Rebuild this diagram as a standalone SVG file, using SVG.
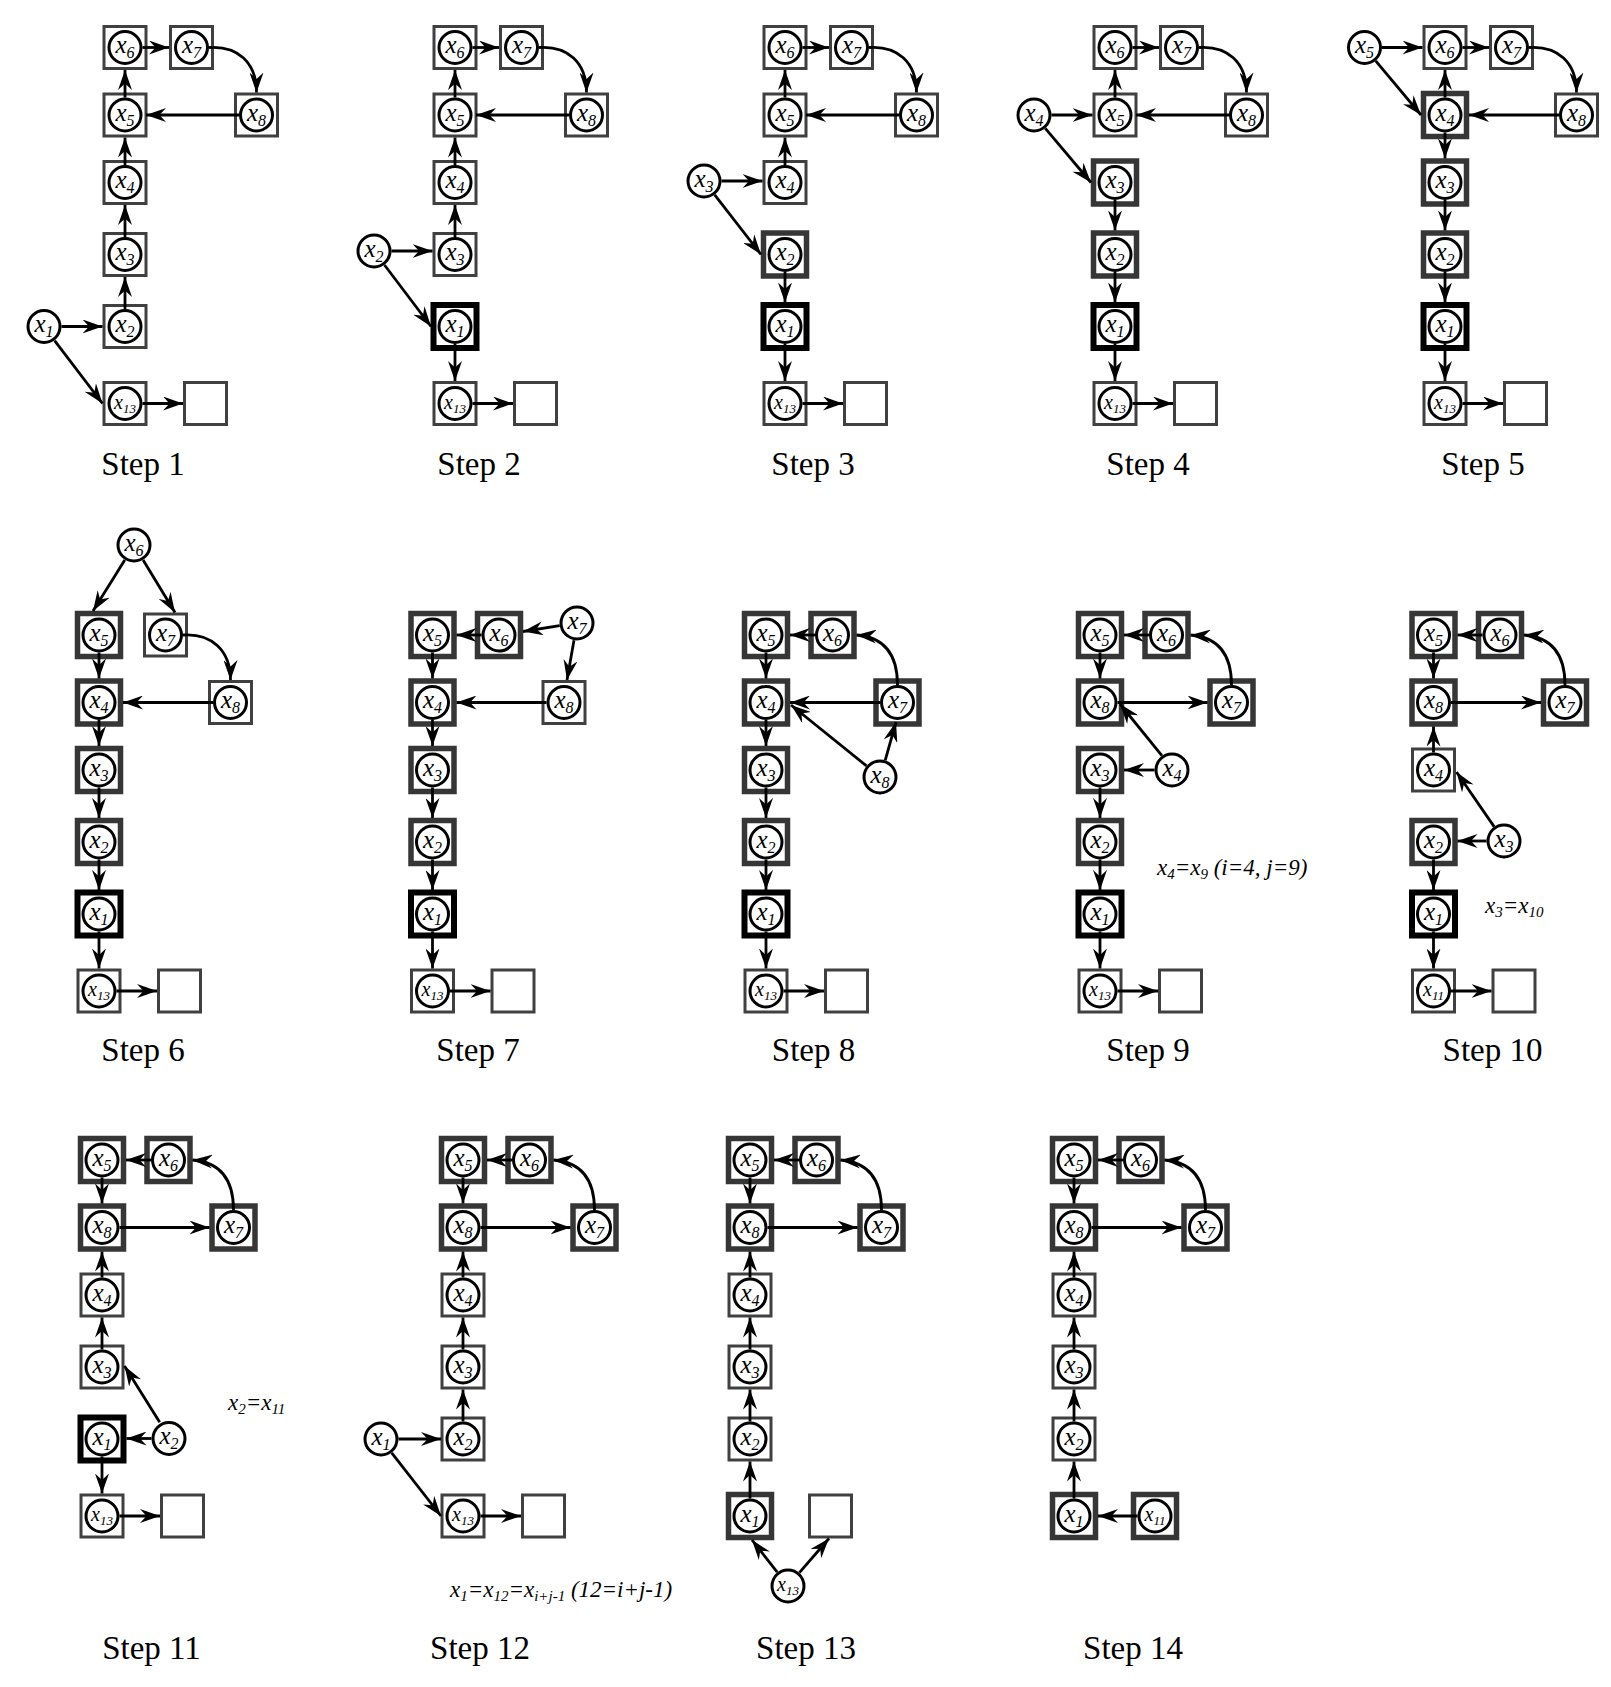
<svg xmlns="http://www.w3.org/2000/svg" width="1611" height="1687" viewBox="0 0 1611 1687">
<style>
.nb{fill:#fff;stroke:#404040;stroke-width:3}
.tb{fill:#fff;stroke:#363636;stroke-width:5.5}
.bb{fill:#fff;stroke:#000;stroke-width:6}
.c{fill:#fff;stroke:#000;stroke-width:3}
.l{font-family:"Liberation Serif",serif;font-style:italic;font-size:25px;text-anchor:middle;fill:#000}
.l .s{font-size:16px}
.l.m{font-size:20px}
.l.m .s{font-size:13px}
.st{font-family:"Liberation Serif",serif;font-size:33px;text-anchor:middle;fill:#000}
.note{font-family:"Liberation Serif",serif;font-style:italic;font-size:23px;fill:#000}
.note .ns{font-size:15px}
.e path{fill:none;stroke:#000;stroke-width:2.8;marker-end:url(#ah)}
</style>
<defs>
<marker id="ah" viewBox="0 0 20 14" refX="20" refY="7" markerWidth="20" markerHeight="14" markerUnits="userSpaceOnUse" orient="auto"><path d="M0,0 L20,7 L0,14 L6.5,7 Z" fill="#000"/></marker>
</defs>
<rect width="1611" height="1687" fill="#fff"/>

<!-- Step 1 -->
<g id="step1">
<g id="s1-x6"><rect class="nb" x="104" y="26.5" width="42" height="42"/><circle class="c" cx="125" cy="47.5" r="16"/><text class="l" x="125" y="53">x<tspan class="s" dy="5">6</tspan></text></g>
<g id="s1-x7"><rect class="nb" x="170.5" y="26.5" width="42" height="42"/><circle class="c" cx="191.5" cy="47.5" r="16"/><text class="l" x="191.5" y="53">x<tspan class="s" dy="5">7</tspan></text></g>
<g id="s1-x5"><rect class="nb" x="104" y="94" width="42" height="42"/><circle class="c" cx="125" cy="115" r="16"/><text class="l" x="125" y="120.5">x<tspan class="s" dy="5">5</tspan></text></g>
<g id="s1-x8"><rect class="nb" x="235.5" y="94" width="42" height="42"/><circle class="c" cx="256.5" cy="115" r="16"/><text class="l" x="256.5" y="120.5">x<tspan class="s" dy="5">8</tspan></text></g>
<g id="s1-x4"><rect class="nb" x="104" y="161.5" width="42" height="42"/><circle class="c" cx="125" cy="182.5" r="16"/><text class="l" x="125" y="188">x<tspan class="s" dy="5">4</tspan></text></g>
<g id="s1-x3"><rect class="nb" x="104" y="233.5" width="42" height="42"/><circle class="c" cx="125" cy="254.5" r="16"/><text class="l" x="125" y="260">x<tspan class="s" dy="5">3</tspan></text></g>
<g id="s1-x2"><rect class="nb" x="104" y="305.5" width="42" height="42"/><circle class="c" cx="125" cy="326.5" r="16"/><text class="l" x="125" y="332">x<tspan class="s" dy="5">2</tspan></text></g>
<g id="s1-x1"><circle class="c" cx="44" cy="326.5" r="16"/><text class="l" x="44" y="332">x<tspan class="s" dy="5">1</tspan></text></g>
<g id="s1-x13"><rect class="nb" x="104" y="382.5" width="42" height="42"/><circle class="c" cx="125" cy="403.5" r="16"/><text class="l m" x="125" y="408.5">x<tspan class="s" dy="4">13</tspan></text></g>
<g id="s1-empty"><rect class="nb" x="184.5" y="382.5" width="42" height="42"/></g>
<text class="st" x="143" y="475">Step 1</text>
</g>

<!-- Step 2 -->
<g id="step2">
<g id="s2-x6"><rect class="nb" x="434" y="26.5" width="42" height="42"/><circle class="c" cx="455" cy="47.5" r="16"/><text class="l" x="455" y="53">x<tspan class="s" dy="5">6</tspan></text></g>
<g id="s2-x7"><rect class="nb" x="500.5" y="26.5" width="42" height="42"/><circle class="c" cx="521.5" cy="47.5" r="16"/><text class="l" x="521.5" y="53">x<tspan class="s" dy="5">7</tspan></text></g>
<g id="s2-x5"><rect class="nb" x="434" y="94" width="42" height="42"/><circle class="c" cx="455" cy="115" r="16"/><text class="l" x="455" y="120.5">x<tspan class="s" dy="5">5</tspan></text></g>
<g id="s2-x8"><rect class="nb" x="565.5" y="94" width="42" height="42"/><circle class="c" cx="586.5" cy="115" r="16"/><text class="l" x="586.5" y="120.5">x<tspan class="s" dy="5">8</tspan></text></g>
<g id="s2-x4"><rect class="nb" x="434" y="161.5" width="42" height="42"/><circle class="c" cx="455" cy="182.5" r="16"/><text class="l" x="455" y="188">x<tspan class="s" dy="5">4</tspan></text></g>
<g id="s2-x3"><rect class="nb" x="434" y="233.5" width="42" height="42"/><circle class="c" cx="455" cy="254.5" r="16"/><text class="l" x="455" y="260">x<tspan class="s" dy="5">3</tspan></text></g>
<g id="s2-x2"><circle class="c" cx="374" cy="251" r="16"/><text class="l" x="374" y="256.5">x<tspan class="s" dy="5">2</tspan></text></g>
<g id="s2-x1"><rect class="bb" x="433.5" y="305" width="43" height="43"/><circle class="c" cx="455" cy="326.5" r="16"/><text class="l" x="455" y="332">x<tspan class="s" dy="5">1</tspan></text></g>
<g id="s2-x13"><rect class="nb" x="434" y="382.5" width="42" height="42"/><circle class="c" cx="455" cy="403.5" r="16"/><text class="l m" x="455" y="408.5">x<tspan class="s" dy="4">13</tspan></text></g>
<g id="s2-empty"><rect class="nb" x="514.5" y="382.5" width="42" height="42"/></g>
<text class="st" x="479" y="475">Step 2</text>
</g>

<!-- Step 3 -->
<g id="step3">
<g id="s3-x6"><rect class="nb" x="764" y="26.5" width="42" height="42"/><circle class="c" cx="785" cy="47.5" r="16"/><text class="l" x="785" y="53">x<tspan class="s" dy="5">6</tspan></text></g>
<g id="s3-x7"><rect class="nb" x="830.5" y="26.5" width="42" height="42"/><circle class="c" cx="851.5" cy="47.5" r="16"/><text class="l" x="851.5" y="53">x<tspan class="s" dy="5">7</tspan></text></g>
<g id="s3-x5"><rect class="nb" x="764" y="94" width="42" height="42"/><circle class="c" cx="785" cy="115" r="16"/><text class="l" x="785" y="120.5">x<tspan class="s" dy="5">5</tspan></text></g>
<g id="s3-x8"><rect class="nb" x="895.5" y="94" width="42" height="42"/><circle class="c" cx="916.5" cy="115" r="16"/><text class="l" x="916.5" y="120.5">x<tspan class="s" dy="5">8</tspan></text></g>
<g id="s3-x4"><rect class="nb" x="764" y="161.5" width="42" height="42"/><circle class="c" cx="785" cy="182.5" r="16"/><text class="l" x="785" y="188">x<tspan class="s" dy="5">4</tspan></text></g>
<g id="s3-x3"><circle class="c" cx="704" cy="181" r="16"/><text class="l" x="704" y="186.5">x<tspan class="s" dy="5">3</tspan></text></g>
<g id="s3-x2"><rect class="tb" x="763.5" y="233" width="43" height="43"/><circle class="c" cx="785" cy="254.5" r="16"/><text class="l" x="785" y="260">x<tspan class="s" dy="5">2</tspan></text></g>
<g id="s3-x1"><rect class="bb" x="763.5" y="305" width="43" height="43"/><circle class="c" cx="785" cy="326.5" r="16"/><text class="l" x="785" y="332">x<tspan class="s" dy="5">1</tspan></text></g>
<g id="s3-x13"><rect class="nb" x="764" y="382.5" width="42" height="42"/><circle class="c" cx="785" cy="403.5" r="16"/><text class="l m" x="785" y="408.5">x<tspan class="s" dy="4">13</tspan></text></g>
<g id="s3-empty"><rect class="nb" x="844.5" y="382.5" width="42" height="42"/></g>
<text class="st" x="813" y="475">Step 3</text>
</g>

<!-- Step 4 -->
<g id="step4">
<g id="s4-x6"><rect class="nb" x="1094" y="26.5" width="42" height="42"/><circle class="c" cx="1115" cy="47.5" r="16"/><text class="l" x="1115" y="53">x<tspan class="s" dy="5">6</tspan></text></g>
<g id="s4-x7"><rect class="nb" x="1160.5" y="26.5" width="42" height="42"/><circle class="c" cx="1181.5" cy="47.5" r="16"/><text class="l" x="1181.5" y="53">x<tspan class="s" dy="5">7</tspan></text></g>
<g id="s4-x5"><rect class="nb" x="1094" y="94" width="42" height="42"/><circle class="c" cx="1115" cy="115" r="16"/><text class="l" x="1115" y="120.5">x<tspan class="s" dy="5">5</tspan></text></g>
<g id="s4-x8"><rect class="nb" x="1225.5" y="94" width="42" height="42"/><circle class="c" cx="1246.5" cy="115" r="16"/><text class="l" x="1246.5" y="120.5">x<tspan class="s" dy="5">8</tspan></text></g>
<g id="s4-x4"><circle class="c" cx="1034" cy="115" r="16"/><text class="l" x="1034" y="120.5">x<tspan class="s" dy="5">4</tspan></text></g>
<g id="s4-x3"><rect class="tb" x="1093.5" y="161" width="43" height="43"/><circle class="c" cx="1115" cy="182.5" r="16"/><text class="l" x="1115" y="188">x<tspan class="s" dy="5">3</tspan></text></g>
<g id="s4-x2"><rect class="tb" x="1093.5" y="233" width="43" height="43"/><circle class="c" cx="1115" cy="254.5" r="16"/><text class="l" x="1115" y="260">x<tspan class="s" dy="5">2</tspan></text></g>
<g id="s4-x1"><rect class="bb" x="1093.5" y="305" width="43" height="43"/><circle class="c" cx="1115" cy="326.5" r="16"/><text class="l" x="1115" y="332">x<tspan class="s" dy="5">1</tspan></text></g>
<g id="s4-x13"><rect class="nb" x="1094" y="382.5" width="42" height="42"/><circle class="c" cx="1115" cy="403.5" r="16"/><text class="l m" x="1115" y="408.5">x<tspan class="s" dy="4">13</tspan></text></g>
<g id="s4-empty"><rect class="nb" x="1174.5" y="382.5" width="42" height="42"/></g>
<text class="st" x="1148" y="475">Step 4</text>
</g>

<!-- Step 5 -->
<g id="step5">
<g id="s5-x5"><circle class="c" cx="1364.5" cy="47.5" r="16"/><text class="l" x="1364.5" y="53">x<tspan class="s" dy="5">5</tspan></text></g>
<g id="s5-x6"><rect class="nb" x="1424" y="26.5" width="42" height="42"/><circle class="c" cx="1445" cy="47.5" r="16"/><text class="l" x="1445" y="53">x<tspan class="s" dy="5">6</tspan></text></g>
<g id="s5-x7"><rect class="nb" x="1490.5" y="26.5" width="42" height="42"/><circle class="c" cx="1511.5" cy="47.5" r="16"/><text class="l" x="1511.5" y="53">x<tspan class="s" dy="5">7</tspan></text></g>
<g id="s5-x4"><rect class="tb" x="1423.5" y="93.5" width="43" height="43"/><circle class="c" cx="1445" cy="115" r="16"/><text class="l" x="1445" y="120.5">x<tspan class="s" dy="5">4</tspan></text></g>
<g id="s5-x8"><rect class="nb" x="1555.5" y="94" width="42" height="42"/><circle class="c" cx="1576.5" cy="115" r="16"/><text class="l" x="1576.5" y="120.5">x<tspan class="s" dy="5">8</tspan></text></g>
<g id="s5-x3"><rect class="tb" x="1423.5" y="161" width="43" height="43"/><circle class="c" cx="1445" cy="182.5" r="16"/><text class="l" x="1445" y="188">x<tspan class="s" dy="5">3</tspan></text></g>
<g id="s5-x2"><rect class="tb" x="1423.5" y="233" width="43" height="43"/><circle class="c" cx="1445" cy="254.5" r="16"/><text class="l" x="1445" y="260">x<tspan class="s" dy="5">2</tspan></text></g>
<g id="s5-x1"><rect class="bb" x="1423.5" y="305" width="43" height="43"/><circle class="c" cx="1445" cy="326.5" r="16"/><text class="l" x="1445" y="332">x<tspan class="s" dy="5">1</tspan></text></g>
<g id="s5-x13"><rect class="nb" x="1424" y="382.5" width="42" height="42"/><circle class="c" cx="1445" cy="403.5" r="16"/><text class="l m" x="1445" y="408.5">x<tspan class="s" dy="4">13</tspan></text></g>
<g id="s5-empty"><rect class="nb" x="1504.5" y="382.5" width="42" height="42"/></g>
<text class="st" x="1483" y="475">Step 5</text>
</g>

<!-- Step 6 -->
<g id="step6">
<g id="s6-x6"><circle class="c" cx="134" cy="545" r="16"/><text class="l" x="134" y="550.5">x<tspan class="s" dy="5">6</tspan></text></g>
<g id="s6-x5"><rect class="tb" x="77.5" y="613.5" width="43" height="43"/><circle class="c" cx="99" cy="635" r="16"/><text class="l" x="99" y="640.5">x<tspan class="s" dy="5">5</tspan></text></g>
<g id="s6-x7"><rect class="nb" x="144.5" y="614" width="42" height="42"/><circle class="c" cx="165.5" cy="635" r="16"/><text class="l" x="165.5" y="640.5">x<tspan class="s" dy="5">7</tspan></text></g>
<g id="s6-x4"><rect class="tb" x="77.5" y="681" width="43" height="43"/><circle class="c" cx="99" cy="702.5" r="16"/><text class="l" x="99" y="708">x<tspan class="s" dy="5">4</tspan></text></g>
<g id="s6-x8"><rect class="nb" x="209.5" y="681.5" width="42" height="42"/><circle class="c" cx="230.5" cy="702.5" r="16"/><text class="l" x="230.5" y="708">x<tspan class="s" dy="5">8</tspan></text></g>
<g id="s6-x3"><rect class="tb" x="77.5" y="748.5" width="43" height="43"/><circle class="c" cx="99" cy="770" r="16"/><text class="l" x="99" y="775.5">x<tspan class="s" dy="5">3</tspan></text></g>
<g id="s6-x2"><rect class="tb" x="77.5" y="820.5" width="43" height="43"/><circle class="c" cx="99" cy="842" r="16"/><text class="l" x="99" y="847.5">x<tspan class="s" dy="5">2</tspan></text></g>
<g id="s6-x1"><rect class="bb" x="77.5" y="892.5" width="43" height="43"/><circle class="c" cx="99" cy="914" r="16"/><text class="l" x="99" y="919.5">x<tspan class="s" dy="5">1</tspan></text></g>
<g id="s6-x13"><rect class="nb" x="78" y="970" width="42" height="42"/><circle class="c" cx="99" cy="991" r="16"/><text class="l m" x="99" y="996">x<tspan class="s" dy="4">13</tspan></text></g>
<g id="s6-empty"><rect class="nb" x="158.5" y="970" width="42" height="42"/></g>
<text class="st" x="143" y="1061">Step 6</text>
</g>

<!-- Step 7 -->
<g id="step7">
<g id="s7-x5"><rect class="tb" x="411" y="613.5" width="43" height="43"/><circle class="c" cx="432.5" cy="635" r="16"/><text class="l" x="432.5" y="640.5">x<tspan class="s" dy="5">5</tspan></text></g>
<g id="s7-x6"><rect class="tb" x="477.5" y="613.5" width="43" height="43"/><circle class="c" cx="499" cy="635" r="16"/><text class="l" x="499" y="640.5">x<tspan class="s" dy="5">6</tspan></text></g>
<g id="s7-x7"><circle class="c" cx="577" cy="623" r="16"/><text class="l" x="577" y="628.5">x<tspan class="s" dy="5">7</tspan></text></g>
<g id="s7-x8"><rect class="nb" x="543" y="681.5" width="42" height="42"/><circle class="c" cx="564" cy="702.5" r="16"/><text class="l" x="564" y="708">x<tspan class="s" dy="5">8</tspan></text></g>
<g id="s7-x4"><rect class="tb" x="411" y="681" width="43" height="43"/><circle class="c" cx="432.5" cy="702.5" r="16"/><text class="l" x="432.5" y="708">x<tspan class="s" dy="5">4</tspan></text></g>
<g id="s7-x3"><rect class="tb" x="411" y="748.5" width="43" height="43"/><circle class="c" cx="432.5" cy="770" r="16"/><text class="l" x="432.5" y="775.5">x<tspan class="s" dy="5">3</tspan></text></g>
<g id="s7-x2"><rect class="tb" x="411" y="820.5" width="43" height="43"/><circle class="c" cx="432.5" cy="842" r="16"/><text class="l" x="432.5" y="847.5">x<tspan class="s" dy="5">2</tspan></text></g>
<g id="s7-x1"><rect class="bb" x="411" y="892.5" width="43" height="43"/><circle class="c" cx="432.5" cy="914" r="16"/><text class="l" x="432.5" y="919.5">x<tspan class="s" dy="5">1</tspan></text></g>
<g id="s7-x13"><rect class="nb" x="411.5" y="970" width="42" height="42"/><circle class="c" cx="432.5" cy="991" r="16"/><text class="l m" x="432.5" y="996">x<tspan class="s" dy="4">13</tspan></text></g>
<g id="s7-empty"><rect class="nb" x="492" y="970" width="42" height="42"/></g>
<text class="st" x="478" y="1061">Step 7</text>
</g>

<!-- Step 8 -->
<g id="step8">
<g id="s8-x5"><rect class="tb" x="744.5" y="613.5" width="43" height="43"/><circle class="c" cx="766" cy="635" r="16"/><text class="l" x="766" y="640.5">x<tspan class="s" dy="5">5</tspan></text></g>
<g id="s8-x6"><rect class="tb" x="811" y="613.5" width="43" height="43"/><circle class="c" cx="832.5" cy="635" r="16"/><text class="l" x="832.5" y="640.5">x<tspan class="s" dy="5">6</tspan></text></g>
<g id="s8-x4"><rect class="tb" x="744.5" y="681" width="43" height="43"/><circle class="c" cx="766" cy="702.5" r="16"/><text class="l" x="766" y="708">x<tspan class="s" dy="5">4</tspan></text></g>
<g id="s8-x7"><rect class="tb" x="876" y="681" width="43" height="43"/><circle class="c" cx="897.5" cy="702.5" r="16"/><text class="l" x="897.5" y="708">x<tspan class="s" dy="5">7</tspan></text></g>
<g id="s8-x8"><circle class="c" cx="880" cy="777" r="16"/><text class="l" x="880" y="782.5">x<tspan class="s" dy="5">8</tspan></text></g>
<g id="s8-x3"><rect class="tb" x="744.5" y="748.5" width="43" height="43"/><circle class="c" cx="766" cy="770" r="16"/><text class="l" x="766" y="775.5">x<tspan class="s" dy="5">3</tspan></text></g>
<g id="s8-x2"><rect class="tb" x="744.5" y="820.5" width="43" height="43"/><circle class="c" cx="766" cy="842" r="16"/><text class="l" x="766" y="847.5">x<tspan class="s" dy="5">2</tspan></text></g>
<g id="s8-x1"><rect class="bb" x="744.5" y="892.5" width="43" height="43"/><circle class="c" cx="766" cy="914" r="16"/><text class="l" x="766" y="919.5">x<tspan class="s" dy="5">1</tspan></text></g>
<g id="s8-x13"><rect class="nb" x="745" y="970" width="42" height="42"/><circle class="c" cx="766" cy="991" r="16"/><text class="l m" x="766" y="996">x<tspan class="s" dy="4">13</tspan></text></g>
<g id="s8-empty"><rect class="nb" x="825.5" y="970" width="42" height="42"/></g>
<text class="st" x="813.5" y="1061">Step 8</text>
</g>

<!-- Step 9 -->
<g id="step9">
<g id="s9-x5"><rect class="tb" x="1078.5" y="613.5" width="43" height="43"/><circle class="c" cx="1100" cy="635" r="16"/><text class="l" x="1100" y="640.5">x<tspan class="s" dy="5">5</tspan></text></g>
<g id="s9-x6"><rect class="tb" x="1145" y="613.5" width="43" height="43"/><circle class="c" cx="1166.5" cy="635" r="16"/><text class="l" x="1166.5" y="640.5">x<tspan class="s" dy="5">6</tspan></text></g>
<g id="s9-x8"><rect class="tb" x="1078.5" y="681" width="43" height="43"/><circle class="c" cx="1100" cy="702.5" r="16"/><text class="l" x="1100" y="708">x<tspan class="s" dy="5">8</tspan></text></g>
<g id="s9-x7"><rect class="tb" x="1210" y="681" width="43" height="43"/><circle class="c" cx="1231.5" cy="702.5" r="16"/><text class="l" x="1231.5" y="708">x<tspan class="s" dy="5">7</tspan></text></g>
<g id="s9-x3"><rect class="tb" x="1078.5" y="748.5" width="43" height="43"/><circle class="c" cx="1100" cy="770" r="16"/><text class="l" x="1100" y="775.5">x<tspan class="s" dy="5">3</tspan></text></g>
<g id="s9-x4"><circle class="c" cx="1172" cy="770" r="16"/><text class="l" x="1172" y="775.5">x<tspan class="s" dy="5">4</tspan></text></g>
<g id="s9-x2"><rect class="tb" x="1078.5" y="820.5" width="43" height="43"/><circle class="c" cx="1100" cy="842" r="16"/><text class="l" x="1100" y="847.5">x<tspan class="s" dy="5">2</tspan></text></g>
<g id="s9-x1"><rect class="bb" x="1078.5" y="892.5" width="43" height="43"/><circle class="c" cx="1100" cy="914" r="16"/><text class="l" x="1100" y="919.5">x<tspan class="s" dy="5">1</tspan></text></g>
<g id="s9-x13"><rect class="nb" x="1079" y="970" width="42" height="42"/><circle class="c" cx="1100" cy="991" r="16"/><text class="l m" x="1100" y="996">x<tspan class="s" dy="4">13</tspan></text></g>
<g id="s9-empty"><rect class="nb" x="1159.5" y="970" width="42" height="42"/></g>
<text class="note" x="1157" y="875">x<tspan class="ns" dy="4">4</tspan><tspan dy="-4">=x</tspan><tspan class="ns" dy="4">9</tspan><tspan dy="-4"> (i=4, j=9)</tspan></text>
<text class="st" x="1148" y="1061">Step 9</text>
</g>

<!-- Step 10 -->
<g id="step10">
<g id="s10-x5"><rect class="tb" x="1412" y="613.5" width="43" height="43"/><circle class="c" cx="1433.5" cy="635" r="16"/><text class="l" x="1433.5" y="640.5">x<tspan class="s" dy="5">5</tspan></text></g>
<g id="s10-x6"><rect class="tb" x="1478.5" y="613.5" width="43" height="43"/><circle class="c" cx="1500" cy="635" r="16"/><text class="l" x="1500" y="640.5">x<tspan class="s" dy="5">6</tspan></text></g>
<g id="s10-x8"><rect class="tb" x="1412" y="681" width="43" height="43"/><circle class="c" cx="1433.5" cy="702.5" r="16"/><text class="l" x="1433.5" y="708">x<tspan class="s" dy="5">8</tspan></text></g>
<g id="s10-x7"><rect class="tb" x="1543.5" y="681" width="43" height="43"/><circle class="c" cx="1565" cy="702.5" r="16"/><text class="l" x="1565" y="708">x<tspan class="s" dy="5">7</tspan></text></g>
<g id="s10-x4"><rect class="nb" x="1412.5" y="749" width="42" height="42"/><circle class="c" cx="1433.5" cy="770" r="16"/><text class="l" x="1433.5" y="775.5">x<tspan class="s" dy="5">4</tspan></text></g>
<g id="s10-x2"><rect class="tb" x="1412" y="820.5" width="43" height="43"/><circle class="c" cx="1433.5" cy="842" r="16"/><text class="l" x="1433.5" y="847.5">x<tspan class="s" dy="5">2</tspan></text></g>
<g id="s10-x3"><circle class="c" cx="1504" cy="841" r="16"/><text class="l" x="1504" y="846.5">x<tspan class="s" dy="5">3</tspan></text></g>
<g id="s10-x1"><rect class="bb" x="1412" y="892.5" width="43" height="43"/><circle class="c" cx="1433.5" cy="914" r="16"/><text class="l" x="1433.5" y="919.5">x<tspan class="s" dy="5">1</tspan></text></g>
<g id="s10-x11"><rect class="nb" x="1412.5" y="970" width="42" height="42"/><circle class="c" cx="1433.5" cy="991" r="16"/><text class="l m" x="1433.5" y="996">x<tspan class="s" dy="4">11</tspan></text></g>
<g id="s10-empty"><rect class="nb" x="1493" y="970" width="42" height="42"/></g>
<text class="note" x="1485" y="913">x<tspan class="ns" dy="4">3</tspan><tspan dy="-4">=x</tspan><tspan class="ns" dy="4">10</tspan></text>
<text class="st" x="1492.5" y="1061">Step 10</text>
</g>

<!-- Step 11 -->
<g id="step11">
<g id="s11-x5"><rect class="tb" x="80.5" y="1138.5" width="43" height="43"/><circle class="c" cx="102" cy="1160" r="16"/><text class="l" x="102" y="1165.5">x<tspan class="s" dy="5">5</tspan></text></g>
<g id="s11-x6"><rect class="tb" x="147" y="1138.5" width="43" height="43"/><circle class="c" cx="168.5" cy="1160" r="16"/><text class="l" x="168.5" y="1165.5">x<tspan class="s" dy="5">6</tspan></text></g>
<g id="s11-x8"><rect class="tb" x="80.5" y="1206" width="43" height="43"/><circle class="c" cx="102" cy="1227.5" r="16"/><text class="l" x="102" y="1233">x<tspan class="s" dy="5">8</tspan></text></g>
<g id="s11-x7"><rect class="tb" x="212" y="1206" width="43" height="43"/><circle class="c" cx="233.5" cy="1227.5" r="16"/><text class="l" x="233.5" y="1233">x<tspan class="s" dy="5">7</tspan></text></g>
<g id="s11-x4"><rect class="nb" x="81" y="1274" width="42" height="42"/><circle class="c" cx="102" cy="1295" r="16"/><text class="l" x="102" y="1300.5">x<tspan class="s" dy="5">4</tspan></text></g>
<g id="s11-x3"><rect class="nb" x="81" y="1346" width="42" height="42"/><circle class="c" cx="102" cy="1367" r="16"/><text class="l" x="102" y="1372.5">x<tspan class="s" dy="5">3</tspan></text></g>
<g id="s11-x1"><rect class="bb" x="80.5" y="1417.5" width="43" height="43"/><circle class="c" cx="102" cy="1439" r="16"/><text class="l" x="102" y="1444.5">x<tspan class="s" dy="5">1</tspan></text></g>
<g id="s11-x2"><circle class="c" cx="169" cy="1438.5" r="16"/><text class="l" x="169" y="1444">x<tspan class="s" dy="5">2</tspan></text></g>
<g id="s11-x13"><rect class="nb" x="81" y="1495" width="42" height="42"/><circle class="c" cx="102" cy="1516" r="16"/><text class="l m" x="102" y="1521">x<tspan class="s" dy="4">13</tspan></text></g>
<g id="s11-empty"><rect class="nb" x="161.5" y="1495" width="42" height="42"/></g>
<text class="note" x="228" y="1410">x<tspan class="ns" dy="4">2</tspan><tspan dy="-4">=x</tspan><tspan class="ns" dy="4">11</tspan></text>
<text class="st" x="151.5" y="1659">Step 11</text>
</g>

<!-- Step 12 -->
<g id="step12">
<g id="s12-x5"><rect class="tb" x="441.5" y="1138.5" width="43" height="43"/><circle class="c" cx="463" cy="1160" r="16"/><text class="l" x="463" y="1165.5">x<tspan class="s" dy="5">5</tspan></text></g>
<g id="s12-x6"><rect class="tb" x="508" y="1138.5" width="43" height="43"/><circle class="c" cx="529.5" cy="1160" r="16"/><text class="l" x="529.5" y="1165.5">x<tspan class="s" dy="5">6</tspan></text></g>
<g id="s12-x8"><rect class="tb" x="441.5" y="1206" width="43" height="43"/><circle class="c" cx="463" cy="1227.5" r="16"/><text class="l" x="463" y="1233">x<tspan class="s" dy="5">8</tspan></text></g>
<g id="s12-x7"><rect class="tb" x="573" y="1206" width="43" height="43"/><circle class="c" cx="594.5" cy="1227.5" r="16"/><text class="l" x="594.5" y="1233">x<tspan class="s" dy="5">7</tspan></text></g>
<g id="s12-x4"><rect class="nb" x="442" y="1274" width="42" height="42"/><circle class="c" cx="463" cy="1295" r="16"/><text class="l" x="463" y="1300.5">x<tspan class="s" dy="5">4</tspan></text></g>
<g id="s12-x3"><rect class="nb" x="442" y="1346" width="42" height="42"/><circle class="c" cx="463" cy="1367" r="16"/><text class="l" x="463" y="1372.5">x<tspan class="s" dy="5">3</tspan></text></g>
<g id="s12-x2"><rect class="nb" x="442" y="1418" width="42" height="42"/><circle class="c" cx="463" cy="1439" r="16"/><text class="l" x="463" y="1444.5">x<tspan class="s" dy="5">2</tspan></text></g>
<g id="s12-x1"><circle class="c" cx="381" cy="1439" r="16"/><text class="l" x="381" y="1444.5">x<tspan class="s" dy="5">1</tspan></text></g>
<g id="s12-x13"><rect class="nb" x="442" y="1495" width="42" height="42"/><circle class="c" cx="463" cy="1516" r="16"/><text class="l m" x="463" y="1521">x<tspan class="s" dy="4">13</tspan></text></g>
<g id="s12-empty"><rect class="nb" x="522.5" y="1495" width="42" height="42"/></g>
<text class="note" x="450" y="1597">x<tspan class="ns" dy="4">1</tspan><tspan dy="-4">=x</tspan><tspan class="ns" dy="4">12</tspan><tspan dy="-4">=x</tspan><tspan class="ns" dy="4">i+j-1</tspan><tspan dy="-4"> (12=i+j-1)</tspan></text>
<text class="st" x="480" y="1659">Step 12</text>
</g>

<!-- Step 13 -->
<g id="step13">
<g id="s13-x5"><rect class="tb" x="728.5" y="1138.5" width="43" height="43"/><circle class="c" cx="750" cy="1160" r="16"/><text class="l" x="750" y="1165.5">x<tspan class="s" dy="5">5</tspan></text></g>
<g id="s13-x6"><rect class="tb" x="795" y="1138.5" width="43" height="43"/><circle class="c" cx="816.5" cy="1160" r="16"/><text class="l" x="816.5" y="1165.5">x<tspan class="s" dy="5">6</tspan></text></g>
<g id="s13-x8"><rect class="tb" x="728.5" y="1206" width="43" height="43"/><circle class="c" cx="750" cy="1227.5" r="16"/><text class="l" x="750" y="1233">x<tspan class="s" dy="5">8</tspan></text></g>
<g id="s13-x7"><rect class="tb" x="860" y="1206" width="43" height="43"/><circle class="c" cx="881.5" cy="1227.5" r="16"/><text class="l" x="881.5" y="1233">x<tspan class="s" dy="5">7</tspan></text></g>
<g id="s13-x4"><rect class="nb" x="729" y="1274" width="42" height="42"/><circle class="c" cx="750" cy="1295" r="16"/><text class="l" x="750" y="1300.5">x<tspan class="s" dy="5">4</tspan></text></g>
<g id="s13-x3"><rect class="nb" x="729" y="1346" width="42" height="42"/><circle class="c" cx="750" cy="1367" r="16"/><text class="l" x="750" y="1372.5">x<tspan class="s" dy="5">3</tspan></text></g>
<g id="s13-x2"><rect class="nb" x="729" y="1418" width="42" height="42"/><circle class="c" cx="750" cy="1439" r="16"/><text class="l" x="750" y="1444.5">x<tspan class="s" dy="5">2</tspan></text></g>
<g id="s13-x1"><rect class="tb" x="728.5" y="1494.5" width="43" height="43"/><circle class="c" cx="750" cy="1516" r="16"/><text class="l" x="750" y="1521.5">x<tspan class="s" dy="5">1</tspan></text></g>
<g id="s13-empty"><rect class="nb" x="809.5" y="1495" width="42" height="42"/></g>
<g id="s13-x13"><circle class="c" cx="788" cy="1586" r="16"/><text class="l m" x="788" y="1591">x<tspan class="s" dy="4">13</tspan></text></g>
<text class="st" x="806" y="1659">Step 13</text>
</g>

<!-- Step 14 -->
<g id="step14">
<g id="s14-x5"><rect class="tb" x="1052.5" y="1138.5" width="43" height="43"/><circle class="c" cx="1074" cy="1160" r="16"/><text class="l" x="1074" y="1165.5">x<tspan class="s" dy="5">5</tspan></text></g>
<g id="s14-x6"><rect class="tb" x="1119" y="1138.5" width="43" height="43"/><circle class="c" cx="1140.5" cy="1160" r="16"/><text class="l" x="1140.5" y="1165.5">x<tspan class="s" dy="5">6</tspan></text></g>
<g id="s14-x8"><rect class="tb" x="1052.5" y="1206" width="43" height="43"/><circle class="c" cx="1074" cy="1227.5" r="16"/><text class="l" x="1074" y="1233">x<tspan class="s" dy="5">8</tspan></text></g>
<g id="s14-x7"><rect class="tb" x="1184" y="1206" width="43" height="43"/><circle class="c" cx="1205.5" cy="1227.5" r="16"/><text class="l" x="1205.5" y="1233">x<tspan class="s" dy="5">7</tspan></text></g>
<g id="s14-x4"><rect class="nb" x="1053" y="1274" width="42" height="42"/><circle class="c" cx="1074" cy="1295" r="16"/><text class="l" x="1074" y="1300.5">x<tspan class="s" dy="5">4</tspan></text></g>
<g id="s14-x3"><rect class="nb" x="1053" y="1346" width="42" height="42"/><circle class="c" cx="1074" cy="1367" r="16"/><text class="l" x="1074" y="1372.5">x<tspan class="s" dy="5">3</tspan></text></g>
<g id="s14-x2"><rect class="nb" x="1053" y="1418" width="42" height="42"/><circle class="c" cx="1074" cy="1439" r="16"/><text class="l" x="1074" y="1444.5">x<tspan class="s" dy="5">2</tspan></text></g>
<g id="s14-x1"><rect class="tb" x="1052.5" y="1494.5" width="43" height="43"/><circle class="c" cx="1074" cy="1516" r="16"/><text class="l" x="1074" y="1521.5">x<tspan class="s" dy="5">1</tspan></text></g>
<g id="s14-x11"><rect class="tb" x="1133.5" y="1494.5" width="43" height="43"/><circle class="c" cx="1155" cy="1516" r="16"/><text class="l m" x="1155" y="1521">x<tspan class="s" dy="4">11</tspan></text></g>
<text class="st" x="1133" y="1659">Step 14</text>
</g>

<g id="connectors" class="e">
<!-- step 1 -->
<path d="M142.5,47.5 L169,47.5"/>
<path d="M209,47.5 C237,45.5 256.5,62 256.5,92.5"/>
<path d="M239,115 L146,115"/>
<path d="M125,97.5 L125,70"/>
<path d="M125,165 L125,137.5"/>
<path d="M125,237 L125,205"/>
<path d="M125,309 L125,277"/>
<path d="M61.5,326.5 L102.5,326.5"/>
<path d="M54.6,340.6 L102.5,403.5"/>
<path d="M142.5,403.5 L183,403.5"/>
<!-- step 2 -->
<path d="M472.5,47.5 L499,47.5"/>
<path d="M539,47.5 C567,45.5 586.5,62 586.5,92.5"/>
<path d="M569,115 L476,115"/>
<path d="M455,97.5 L455,70"/>
<path d="M455,165 L455,137.5"/>
<path d="M455,237 L455,205"/>
<path d="M391.5,251 L432.5,251"/>
<path d="M384.5,265 L431,326.5"/>
<path d="M455,344 L455,381"/>
<path d="M472.5,403.5 L513,403.5"/>
<!-- step 3 -->
<path d="M802.5,47.5 L829,47.5"/>
<path d="M869,47.5 C897,45.5 916.5,62 916.5,92.5"/>
<path d="M899,115 L806,115"/>
<path d="M785,97.5 L785,70"/>
<path d="M785,165 L785,137.5"/>
<path d="M721.5,181 L762.5,181"/>
<path d="M714.7,194.8 L761,254.5"/>
<path d="M785,272 L785,302.5"/>
<path d="M785,344 L785,381"/>
<path d="M802.5,403.5 L843,403.5"/>
<!-- step 4 -->
<path d="M1132.5,47.5 L1159,47.5"/>
<path d="M1199,47.5 C1227,45.5 1246.5,62 1246.5,92.5"/>
<path d="M1229,115 L1136,115"/>
<path d="M1115,97.5 L1115,70"/>
<path d="M1051.5,115 L1092.5,115"/>
<path d="M1045.3,128.4 L1091,182.5"/>
<path d="M1115,200 L1115,230.5"/>
<path d="M1115,272 L1115,302.5"/>
<path d="M1115,344 L1115,381"/>
<path d="M1132.5,403.5 L1173,403.5"/>
<!-- step 5 -->
<path d="M1382,47.5 L1422.5,47.5"/>
<path d="M1375.7,60.9 L1421,115"/>
<path d="M1445,97.5 L1445,70"/>
<path d="M1462.5,47.5 L1489,47.5"/>
<path d="M1529,47.5 C1557,45.5 1576.5,62 1576.5,92.5"/>
<path d="M1559,115 L1469,115"/>
<path d="M1445,132.5 L1445,158.5"/>
<path d="M1445,200 L1445,230.5"/>
<path d="M1445,272 L1445,302.5"/>
<path d="M1445,344 L1445,381"/>
<path d="M1462.5,403.5 L1503,403.5"/>
<!-- step 6 -->
<path d="M124.8,559.9 L93,611"/>
<path d="M143.1,559.9 L175,612.5"/>
<path d="M183,635 C211,633 230.5,650 230.5,680"/>
<path d="M213,702.5 L123,702.5"/>
<path d="M99,652.5 L99,678.5"/>
<path d="M99,720 L99,746"/>
<path d="M99,787.5 L99,818"/>
<path d="M99,859.5 L99,890"/>
<path d="M99,931.5 L99,968.5"/>
<path d="M116.5,991 L157,991"/>
<!-- step 7 -->
<path d="M559.7,625.6 L523,631.5"/>
<path d="M574,640.2 L567,680"/>
<path d="M481.5,635 L456.5,635"/>
<path d="M432.5,652.5 L432.5,678.5"/>
<path d="M546.5,702.5 L456.5,702.5"/>
<path d="M432.5,720 L432.5,746"/>
<path d="M432.5,787.5 L432.5,818"/>
<path d="M432.5,859.5 L432.5,890"/>
<path d="M432.5,931.5 L432.5,968.5"/>
<path d="M450,991 L490.5,991"/>
<!-- step 8 -->
<path d="M815,635 L790,635"/>
<path d="M897.5,685 C897.5,652 882,637 856.5,635"/>
<path d="M880,702.5 L790,702.5"/>
<path d="M866.5,765.9 L791,705"/>
<path d="M885.2,760.3 L896,722"/>
<path d="M766,652.5 L766,678.5"/>
<path d="M766,720 L766,746"/>
<path d="M766,787.5 L766,818"/>
<path d="M766,859.5 L766,890"/>
<path d="M766,931.5 L766,968.5"/>
<path d="M783.5,991 L824,991"/>
<!-- step 9 -->
<path d="M1149,635 L1124,635"/>
<path d="M1231.5,685 C1231.5,652 1216,637 1190.5,635"/>
<path d="M1117.5,702.5 L1207.5,702.5"/>
<path d="M1100,652.5 L1100,678.5"/>
<path d="M1161.9,755.7 L1120,704"/>
<path d="M1154.5,770 L1124,770"/>
<path d="M1100,787.5 L1100,818"/>
<path d="M1100,859.5 L1100,890"/>
<path d="M1100,931.5 L1100,968.5"/>
<path d="M1117.5,991 L1158,991"/>
<!-- step 10 -->
<path d="M1482.5,635 L1457.5,635"/>
<path d="M1565,685 C1565,652 1549.5,637 1524,635"/>
<path d="M1451,702.5 L1541,702.5"/>
<path d="M1433.5,652.5 L1433.5,678.5"/>
<path d="M1433.5,752.5 L1433.5,726.5"/>
<path d="M1494.1,826.6 L1456.5,772"/>
<path d="M1486.5,841 L1457.5,841"/>
<path d="M1433.5,859.5 L1433.5,890"/>
<path d="M1433.5,931.5 L1433.5,968.5"/>
<path d="M1451,991 L1491.5,991"/>
<!-- step 11 -->
<path d="M151,1160 L126,1160"/>
<path d="M233.5,1210 C233.5,1177 218,1162 192.5,1160"/>
<path d="M119.5,1227.5 L209.5,1227.5"/>
<path d="M102,1177.5 L102,1203.5"/>
<path d="M102,1277.5 L102,1251.5"/>
<path d="M102,1349.5 L102,1317.5"/>
<path d="M159.7,1422.2 L124.5,1366"/>
<path d="M151.5,1438.5 L126.5,1438.5"/>
<path d="M102,1456.5 L102,1493.5"/>
<path d="M119.5,1516 L160,1516"/>
<!-- step 12 -->
<path d="M512,1160 L487,1160"/>
<path d="M594.5,1210 C594.5,1177 579,1162 553.5,1160"/>
<path d="M480.5,1227.5 L570.5,1227.5"/>
<path d="M463,1177.5 L463,1203.5"/>
<path d="M463,1277.5 L463,1251.5"/>
<path d="M463,1349.5 L463,1317.5"/>
<path d="M463,1421.5 L463,1389.5"/>
<path d="M398.5,1439 L441,1439"/>
<path d="M391.7,1452.8 L441,1516"/>
<path d="M480.5,1516 L521,1516"/>
<!-- step 13 -->
<path d="M799,1160 L774,1160"/>
<path d="M881.5,1210 C881.5,1177 866,1162 840.5,1160"/>
<path d="M767.5,1227.5 L857.5,1227.5"/>
<path d="M750,1177.5 L750,1203.5"/>
<path d="M750,1277.5 L750,1251.5"/>
<path d="M750,1349.5 L750,1317.5"/>
<path d="M750,1421.5 L750,1389.5"/>
<path d="M750,1498.5 L750,1461.5"/>
<path d="M777.2,1572.2 L752,1540"/>
<path d="M799.4,1572.7 L829,1538.5"/>
<!-- step 14 -->
<path d="M1123,1160 L1098,1160"/>
<path d="M1205.5,1210 C1205.5,1177 1190,1162 1164.5,1160"/>
<path d="M1091.5,1227.5 L1181.5,1227.5"/>
<path d="M1074,1177.5 L1074,1203.5"/>
<path d="M1074,1277.5 L1074,1251.5"/>
<path d="M1074,1349.5 L1074,1317.5"/>
<path d="M1074,1421.5 L1074,1389.5"/>
<path d="M1074,1498.5 L1074,1461.5"/>
<path d="M1137.5,1516 L1098,1516"/>
</g>
</svg>
